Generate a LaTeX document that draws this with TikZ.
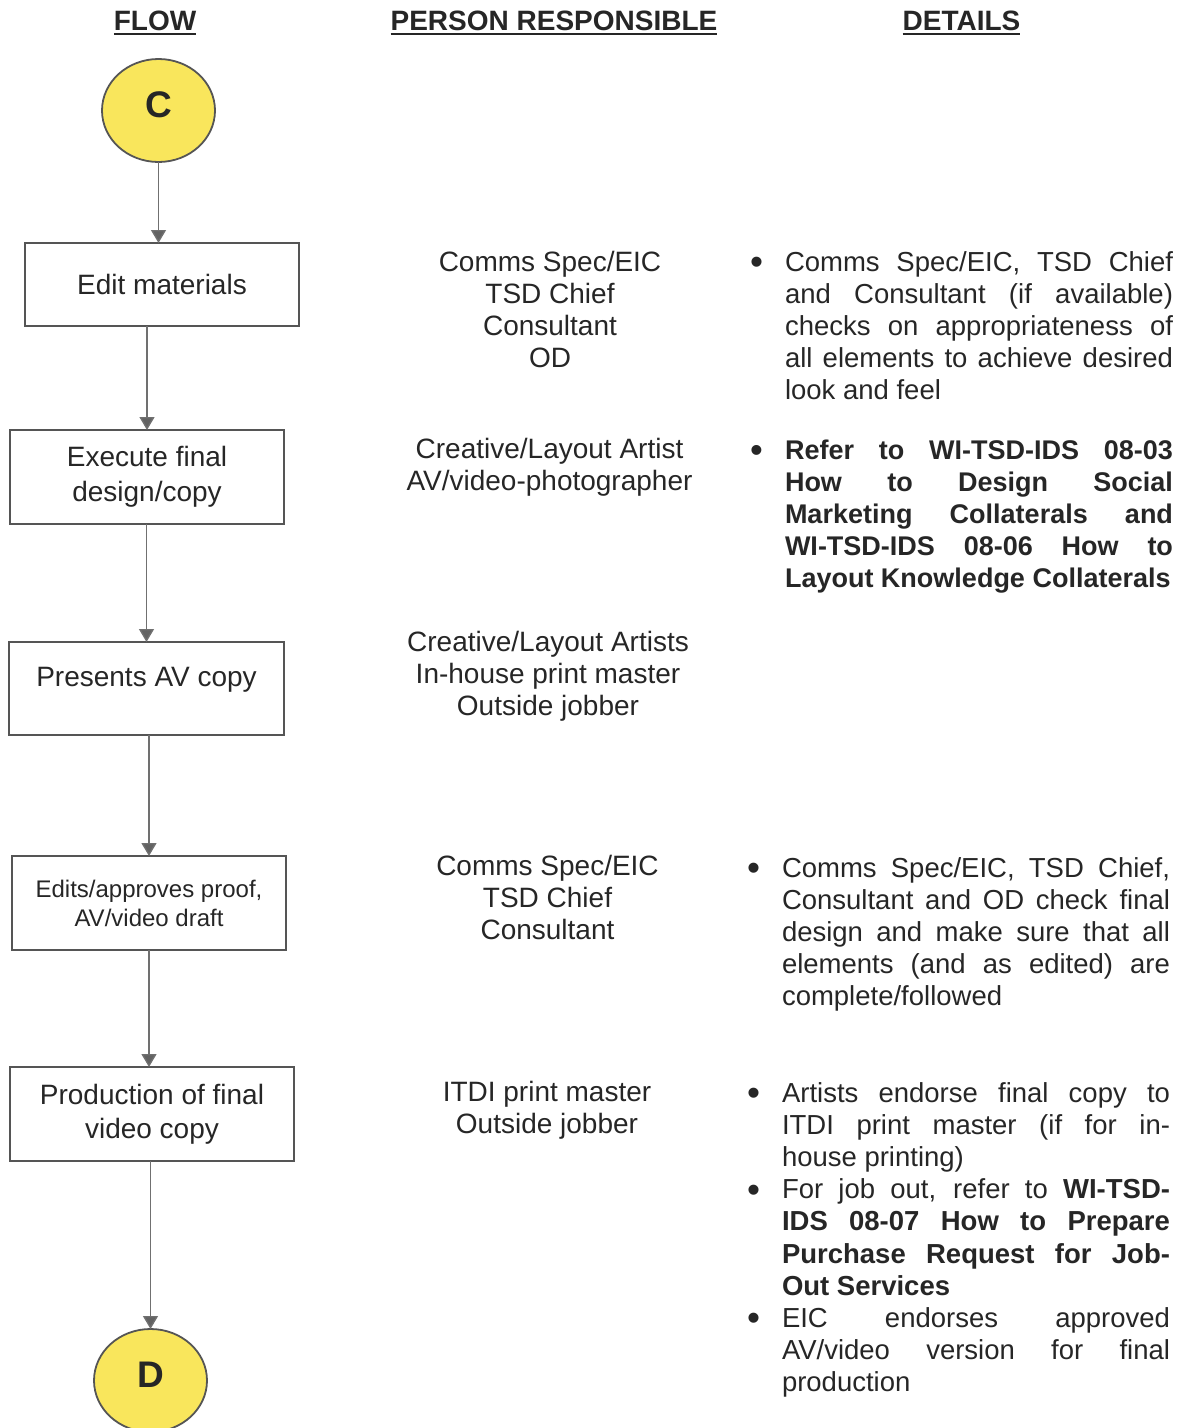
\documentclass[tikz,border=0pt]{standalone}
\usepackage{fontspec}
\setmainfont{Liberation Sans}
\usetikzlibrary{shapes.geometric,arrows.meta}
\definecolor{ink}{HTML}{262626}
\definecolor{boxline}{HTML}{555555}
\definecolor{arrowgray}{HTML}{707070}
\definecolor{tipgray}{HTML}{626262}
\definecolor{connyellow}{HTML}{F9E65C}
\tolerance=10000
\hbadness=10000
\hyphenpenalty=10000
\begin{document}
\begin{tikzpicture}[x=1pt,y=-1pt,
  every node/.style={inner sep=0pt,outer sep=0pt,text=ink},
  head/.style={font=\fontsize{28}{32}\selectfont\bfseries, anchor=base},
  stepbox/.style={draw=boxline, line width=1.8pt, rectangle, align=center,
    font=\fontsize{28}{34.5}\selectfont},
  connector/.style={ellipse, draw=boxline, line width=1.8pt, fill=connyellow,
    minimum width=113pt, minimum height=103pt,
    font=\fontsize{37}{40}\selectfont\bfseries, text depth=12pt},
  flowarrow/.style={draw=arrowgray, line width=1.4pt,
    -{Triangle[width=15pt,length=13pt,fill=tipgray]}},
  who/.style={align=center, anchor=north, font=\fontsize{28}{32}\selectfont},
  detail/.style={anchor=north west, text width=388pt, align=justify,
    font=\fontsize{27.5}{32.2}\selectfont},
  uline/.style={draw=ink, line width=2pt}
]
\useasboundingbox (0,0) rectangle (1183,1428);

% column headings
\node[head] (hflow) at (155,30) {FLOW};
\node[head] (hwho)  at (554,30) {PERSON RESPONSIBLE};
\node[head] (hdet)  at (961.5,30) {DETAILS};
\foreach \h in {hflow,hwho,hdet}
  \draw[uline] ([yshift=-4pt]\h.base west) -- ([yshift=-4pt]\h.base east);

% flow column
\node[connector] (cC) at (158.5,110.5) {C};
\node[stepbox, minimum width=274pt, minimum height=83pt] (b1) at (162,284.5) {Edit materials};
\node[stepbox, minimum width=274pt, minimum height=94pt] (b2) at (147,477) {Execute final\\design/copy};
\node[stepbox, minimum width=275pt, minimum height=93pt, text depth=24pt] (b3) at (146.5,688.5) {Presents AV copy};
\node[stepbox, minimum width=274pt, minimum height=94pt, font=\fontsize{24}{29}\selectfont] (b4) at (149,903) {Edits/approves proof,\\AV/video draft};
\node[stepbox, minimum width=284pt, minimum height=94pt] (b5) at (152,1114) {Production of final\\video copy};
\node[connector] (cD) at (150.5,1380.5) {D};

\draw[flowarrow] (cC.south) -- (cC.south |- b1.north);
\draw[flowarrow] (b2.north |- b1.south) -- (b2.north);
\draw[flowarrow] (b3.north |- b2.south) -- (b3.north);
\draw[flowarrow] (b4.north |- b3.south) -- (b4.north);
\draw[flowarrow] (b4.south) -- (b4.south |- b5.north);
\draw[flowarrow] (cD.north |- b5.south) -- (cD.north);

% person responsible column
\node[who] (w1) at (550,248.6) {\strut Comms Spec/EIC\\TSD Chief\\Consultant\\OD};
\node[who] (w2) at (549.5,435.6) {\strut Creative/Layout Artist\\AV/video-photographer};
\node[who] (w3) at (548,628.6) {\strut Creative/Layout Artists\\In-house print master\\Outside jobber};
\node[who] (w4) at (547.5,852.6) {\strut Comms Spec/EIC\\TSD Chief\\Consultant};
\node[who] (w5) at (547,1078.6) {\strut ITDI print master\\Outside jobber};

% details column
\newcommand{\bul}{\noindent\llap{\raisebox{-3.5pt}{\scalebox{1.35}{\textbullet}}\hspace{22pt}}\strut}
\node[detail] (d1) at (785,248.5) {\bul Comms Spec/EIC, TSD Chief\linebreak
  and Consultant (if available)\linebreak
  checks on appropriateness of\linebreak
  all elements to achieve desired\linebreak
  look and feel};
\node[detail, font=\fontsize{27}{32.2}\selectfont] (d2) at (785,436.5) {\bul \textbf{Refer to WI-TSD-IDS 08-03\linebreak
  How to Design Social\linebreak
  Marketing Collaterals and\linebreak
  WI-TSD-IDS 08-06 How to\linebreak
  Layout Knowledge Collaterals}};
\node[detail] (d4) at (782,854.5) {\bul Comms Spec/EIC, TSD Chief,\linebreak
  Consultant and OD check final\linebreak
  design and make sure that all\linebreak
  elements (and as edited) are\linebreak
  complete/followed};
\node[detail] (d5) at (782,1079.5) {\bul Artists endorse final copy to\linebreak
  ITDI print master (if for in-\linebreak
  house printing)\par
  \bul For job out, refer to \textbf{WI-TSD-\linebreak
  IDS 08-07 How to Prepare\linebreak
  Purchase Request for Job-\linebreak
  Out Services}\par
  \bul EIC endorses approved\linebreak
  AV/video version for final\linebreak
  production};
\end{tikzpicture}
\end{document}
